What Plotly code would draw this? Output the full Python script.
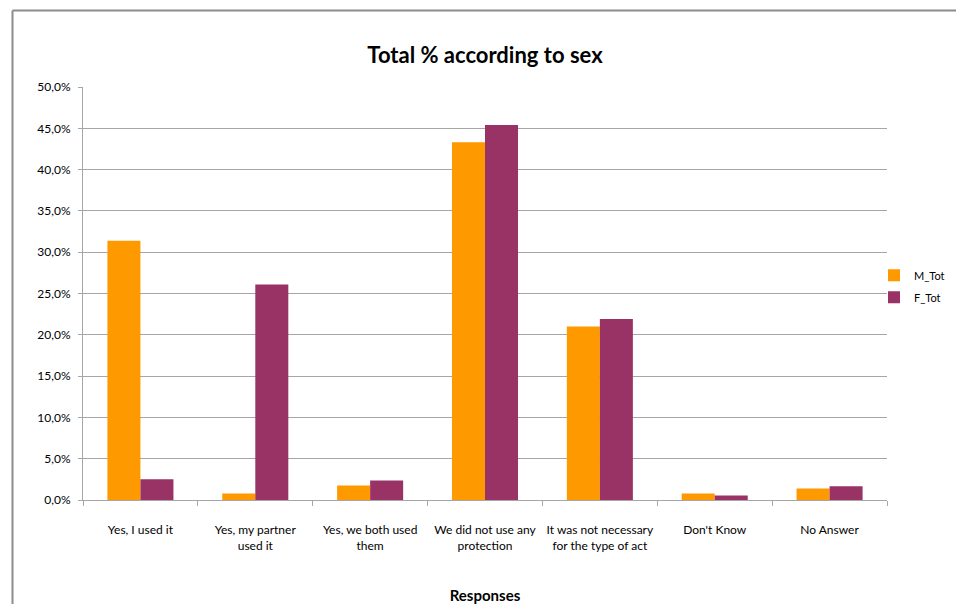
import plotly.graph_objects as go

categories = [
    "Yes, I used it",
    "Yes, my partner<br>used it",
    "Yes, we both used<br>them",
    "We did not use any<br>protection",
    "It was not necessary<br>for the type of act",
    "Don't Know",
    "No Answer",
]
m_tot = [0.314, 0.008, 0.0175, 0.433, 0.210, 0.008, 0.014]
f_tot = [0.025, 0.261, 0.0235, 0.454, 0.219, 0.0055, 0.0165]
y_ticks = [0.0, 0.05, 0.10, 0.15, 0.20, 0.25, 0.30, 0.35, 0.40, 0.45, 0.50]

FONT = "Lato, 'Open Sans', sans-serif"
GRID = "#a6a6a6"

W, H = 956, 604
# plot area in page pixels: x 83..887, y 87..500.5
L = 83
R = 956 - 887
T = 87
B = 604 - 500.5
pw = W - L - R
ph = H - T - B


def px_x(px):
    return (px - L) / pw


def px_y(py):
    return (H - B - py) / ph


fig = go.Figure()
fig.add_trace(go.Bar(name="M_Tot", x=categories, y=m_tot, legendgroup="m",
                     marker=dict(color="#ff9900", line=dict(width=0))))
fig.add_trace(go.Bar(name="F_Tot", x=categories, y=f_tot, legendgroup="f",
                     marker=dict(color="#993366", line=dict(width=0))))

fig.update_layout(
    width=W, height=H,
    margin=dict(l=L, r=R, t=T, b=B, autoexpand=False),
    paper_bgcolor="white", plot_bgcolor="white",
    separators=",.",
    barmode="group", bargap=0.425, bargroupgap=0,
    font=dict(family=FONT, size=12, color="#000000"),
    title=dict(text="<b>Total % according to sex</b>", x=0.5, xanchor="center",
               xref="paper", y=1 - 55 / H, yanchor="middle",
               font=dict(family=FONT, size=22, color="#000000")),
    showlegend=True,
    legend=dict(x=px_x(874), y=px_y(261), xanchor="left", yanchor="top",
                font=dict(family=FONT, size=11), bgcolor="rgba(0,0,0,0)",
                itemwidth=30, tracegroupgap=3),
    xaxis=dict(
        showgrid=False, showline=True, linecolor=GRID, linewidth=1,
        ticks="outside", ticklen=5, tickcolor=GRID, tickson="boundaries",
        tickangle=0,
        tickfont=dict(family=FONT, size=12, color="#000000"),
        ticklabelstandoff=19,
        title=dict(text="<b>Responses</b>", font=dict(family=FONT, size=15, color="#000000"), standoff=52),
        fixedrange=True,
    ),
    yaxis=dict(
        range=[0, 0.5], tickvals=y_ticks, tickformat=".1%",
        showgrid=True, gridcolor=GRID, gridwidth=1,
        showline=True, linecolor=GRID, linewidth=1,
        ticks="outside", ticklen=4, tickcolor=GRID,
        ticklabelstandoff=5,
        tickfont=dict(family=FONT, size=12, color="#000000"),
        zeroline=False, fixedrange=True,
    ),
)

# outer chart border: top and left edges visible
fig.add_shape(type="line", xref="paper", yref="paper",
              x0=px_x(12.5), x1=px_x(970), y0=px_y(10.5), y1=px_y(10.5),
              line=dict(color="#8c8c8c", width=2), layer="below")
fig.add_shape(type="line", xref="paper", yref="paper",
              x0=px_x(12.5), x1=px_x(12.5), y0=px_y(10.5), y1=px_y(620),
              line=dict(color="#8c8c8c", width=2), layer="below")

fig.write_html(
    "out.html",
    config={"displayModeBar": False},
    post_script="document.body.style.margin='0';document.body.style.overflow='hidden';",
)
